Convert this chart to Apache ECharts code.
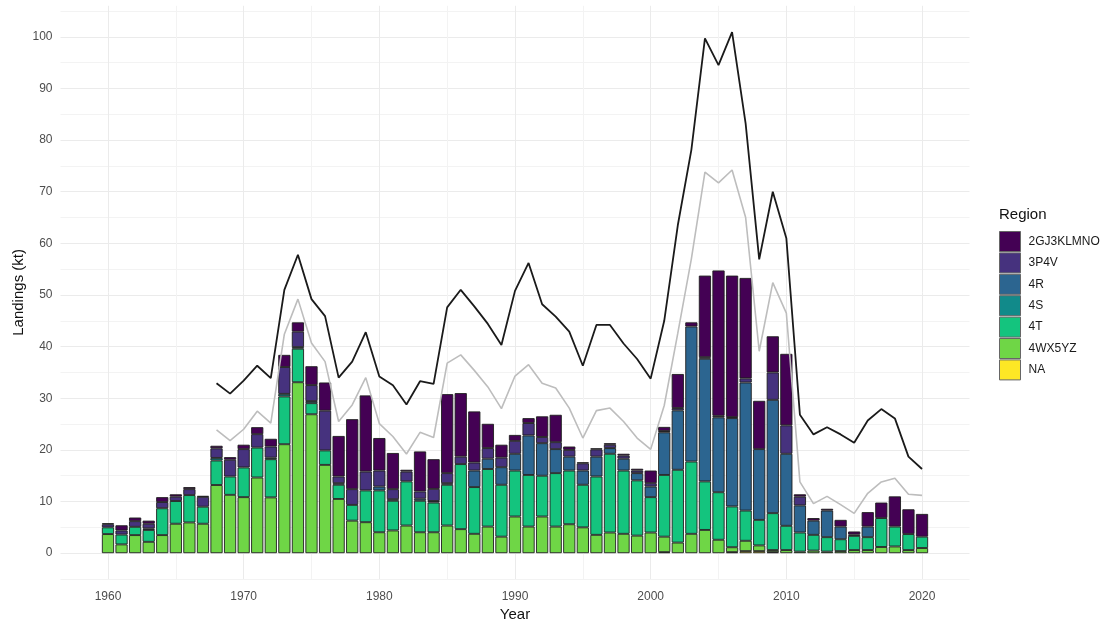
<!DOCTYPE html>
<html>
<head>
<meta charset="utf-8">
<script src="https://cdn.jsdelivr.net/npm/echarts@6/dist/echarts.min.js"></script>
<style>
html,body{margin:0;padding:0;background:#fff}
#chart{width:1112px;height:624px}
</style>
</head>
<body>
<div id="chart"></div>
<script>
// landings by region, kt, 1960-2020
var years = [1960,1961,1962,1963,1964,1965,1966,1967,1968,1969,
             1970,1971,1972,1973,1974,1975,1976,1977,1978,1979,
             1980,1981,1982,1983,1984,1985,1986,1987,1988,1989,
             1990,1991,1992,1993,1994,1995,1996,1997,1998,1999,
             2000,2001,2002,2003,2004,2005,2006,2007,2008,2009,
             2010,2011,2012,2013,2014,2015,2016,2017,2018,2019,2020];

var regions = ['2GJ3KLMNO','3P4V','4R','4S','4T','4WX5YZ','NA'];

var v2GJ = [0.2,1.0,0.7,0.6,0.95,0.45,0.4,0.2,0.5,0.5,
            0.85,1.35,1.5,2.35,1.8,3.65,5.45,7.85,13.55,14.75,
            6.3,7.0,0.35,7.75,5.75,15.3,12.3,9.9,4.7,2.5,
            1.15,0.95,4.0,5.3,0.65,0.2,0.2,0.3,0.35,0.35,
            2.45,0.8,6.6,0.8,15.8,28.15,27.4,19.45,9.35,7.0,
            13.85,0.45,0.5,0.35,1.3,0.6,2.8,3.0,5.85,4.8,4.4];

var v3P4V = [0.6,0.8,1.1,0.9,1.2,0.85,1.15,1.9,1.85,3.25,
             3.55,2.6,2.15,5.2,3.0,3.1,7.7,1.3,3.05,3.65,
             3.1,1.95,1.9,1.4,2.35,1.95,1.45,1.55,2.05,1.85,
             2.5,2.4,1.2,1.35,1.3,1.4,1.4,0.65,0.6,0.5,
             0.65,0.25,0.45,0,0.3,0.3,0.2,0.8,0,5.3,
             5.5,1.7,0,0,0,0,0,0,0,0,0];

var v4R = [0,0,0,0.3,0,0,0,0,0,0,
           0,0,0,0,0,0,0,0.3,0,0,
           0.75,0.3,0,0.4,0.3,0.3,0,3.2,2.0,3.4,
           3.25,7.65,6.3,4.65,2.7,2.75,3.85,1.1,2.3,1.4,
           2.05,8.25,11.5,26.15,23.75,14.5,17.1,24.8,13.7,21.95,
           13.95,5.25,2.75,5.15,2.45,0.25,2.05,0,0,0,0];

var v4S = [0,0,0,0,0,0,0,0,0.5,0,
           0,0,0.3,0.5,0.3,0.4,0,0,0,0,
           0,0,0,0,0,0,0,0,0,0,
           0,0,0,0,0,0,0,0,0,0,
           0,0,0,0,0,0,0,0,0,0,
           0,0,0,0,0,0,0,0,0,0,0];

var v4T = [1.3,1.9,1.6,2.3,5.2,4.4,5.3,3.3,4.75,3.55,
           5.75,5.8,7.4,9.25,6.5,2.15,2.8,2.75,3.05,6.15,
           8.1,5.75,8.55,6.1,5.75,7.9,12.6,9.05,11.15,10.05,
           8.9,10.0,7.9,10.35,10.4,8.25,11.3,15.25,12.25,10.7,
           6.85,11.95,14.1,14.0,9.4,9.2,7.9,5.85,4.95,7.15,
           4.7,3.7,3.05,2.8,2.3,2.75,2.5,5.6,3.85,3.1,2.2];

var v4WX = [3.7,1.7,3.5,2.2,3.5,5.7,5.95,5.7,13.2,11.3,
            10.85,14.65,10.8,21.1,33.1,26.9,17.1,10.5,6.3,6.0,
            4.05,4.4,5.35,4.05,4.05,5.35,4.65,3.75,5.15,3.2,
            7.1,5.15,7.1,5.15,5.6,5.0,3.55,4.0,3.75,3.4,
            4.0,3.0,2.05,3.75,4.5,2.6,0.95,2.0,1.1,0.4,
            0.6,0.3,0.5,0.3,0.4,0.6,0.6,1.2,1.3,0.6,1.0];

var vNA = [0,0,0,0,0,0,0,0,0,0,
           0,0,0,0,0,0,0,0,0,0,
           0,0,0,0,0,0,0,0,0,0,
           0,0,0,0,0,0,0,0,0,0,
           0,0.2,0,0,0,0,0.2,0.4,0.4,0.2,
           0,0,0,0,0,0,0,0,0,0,0];

// the two lines start in 1968
var lineYears = [1968,1969,1970,1971,1972,1973,1974,1975,1976,1977,1978,1979,
                 1980,1981,1982,1983,1984,1985,1986,1987,1988,1989,
                 1990,1991,1992,1993,1994,1995,1996,1997,1998,1999,
                 2000,2001,2002,2003,2004,2005,2006,2007,2008,2009,
                 2010,2011,2012,2013,2014,2015,2016,2017,2018,2019,2020];

var blackLine = [32.9,30.9,33.4,36.3,33.9,51.0,57.8,49.2,45.9,34.0,37.1,42.8,
                 34.2,32.5,28.8,33.3,32.8,47.6,51.0,47.8,44.4,40.3,
                 50.8,56.2,48.2,45.8,42.9,36.3,44.2,44.2,40.6,37.6,
                 33.8,45.0,63.5,78.1,99.7,94.5,100.9,83.2,56.9,70.0,
                 61.0,26.8,23.0,24.4,23.0,21.4,25.7,27.9,26.1,18.7,16.3];

var greyLine = [23.9,21.8,24.0,27.5,25.2,42.4,49.2,40.7,37.1,25.5,28.7,34.0,
                25.1,22.6,19.2,23.4,22.4,36.8,38.4,35.4,32.2,28.0,
                34.3,36.5,32.9,32.0,28.1,22.3,27.6,28.1,25.5,22.3,
                20.1,28.6,42.6,57.0,73.8,71.7,74.2,65.0,39.1,52.4,
                46.5,13.8,9.6,11.0,9.4,7.7,11.6,13.8,14.5,11.4,11.2];

var fills = ['#440154','#46327e','#2c6590','#118a8a','#14c47e','#6fd646','#fde725'];
var values = [v2GJ, v3P4V, v4R, v4S, v4T, v4WX, vNA];

var font = 'Liberation Sans, Arial, sans-serif';

// hidden band axis for the bars: the year range padded by 3.5 years each side,
// same as the visible value axis (1956.5 - 2023.5)
var bands = [];
for (var b = years[0] - 3; b <= years[years.length - 1] + 3; b++) bands.push(String(b));

function barPairs(xs, ys) {
	var out = [];
	for (var i = 0; i < xs.length; i++) {
		if (ys[i] > 0) out.push([String(xs[i]), ys[i]]);
	}
	return out;
}
function linePairs(xs, ys) {
	var out = [];
	for (var i = 0; i < xs.length; i++) out.push([xs[i], ys[i]]);
	return out;
}

// minor vertical grid lines between the labelled decades
var minorX = [];
for (var y = 1965; y <= 2015; y += 10) minorX.push({ xAxis: y });

var series = [];
// ggplot stacks the first level on top, so push in reverse
for (var k = regions.length - 1; k >= 0; k--) {
	series.push({
		name: regions[k],
		type: 'bar',
		stack: 'land',
		xAxisIndex: 1,
		barWidth: 12.2,
		data: barPairs(years, values[k]),
		itemStyle: { color: fills[k], borderColor: '#1e1e1e', borderWidth: 0.9 },
		z: 2
	});
}

series.push({
	name: 'grey',
	type: 'line',
	xAxisIndex: 0,
	data: linePairs(lineYears, greyLine),
	symbol: 'none',
	lineStyle: { color: '#bdbdbd', width: 1.6 },
	z: 3,
	markLine: {
		silent: true,
		symbol: 'none',
		z: 1,
		label: { show: false },
		lineStyle: { color: '#f3f3f3', width: 1, type: 'solid' },
		data: minorX
	}
});
series.push({
	name: 'black',
	type: 'line',
	xAxisIndex: 0,
	data: linePairs(lineYears, blackLine),
	symbol: 'none',
	lineStyle: { color: '#1a1a1a', width: 1.8 },
	z: 4
});

var myChart = echarts.init(document.getElementById('chart'));

var option = {
	animation: false,
	backgroundColor: '#fff',
	textStyle: { fontFamily: font },
	grid: { left: 60.5, right: 142.5, top: 5.8, bottom: 45, containLabel: false, outerBoundsMode: 'none' },
	xAxis: [{
		type: 'value',
		min: 1956.5,
		max: 2023.5,
		splitNumber: 6,
		name: 'Year',
		nameLocation: 'middle',
		nameGap: 28,
		nameMoveOverlap: false,
		nameTextStyle: { fontSize: 15, color: '#111', fontFamily: font },
		axisLine: { show: false },
		axisTick: { show: false },
		axisLabel: {
			color: '#4d4d4d', fontSize: 12, margin: 12, fontFamily: font,
			showMinLabel: false, showMaxLabel: false,
			formatter: function (v) { return String(v); }
		},
		splitLine: {
			show: true, showMinLine: false, showMaxLine: false,
			lineStyle: { color: '#ebebeb', width: 1 }
		}
	}, {
		type: 'category',
		data: bands,
		boundaryGap: true,
		show: false,
		splitLine: { show: false }
	}],
	yAxis: {
		type: 'value',
		min: -5,
		max: 106,
		interval: 5,
		name: 'Landings (kt)',
		nameLocation: 'middle',
		nameGap: 34,
		nameMoveOverlap: false,
		nameTextStyle: { fontSize: 15, color: '#111', fontFamily: font },
		axisLine: { show: false },
		axisTick: { show: false },
		axisLabel: {
			color: '#4d4d4d', fontSize: 12, margin: 8, fontFamily: font,
			showMaxLabel: false,
			formatter: function (v) { return (v >= 0 && v % 10 === 0) ? String(v) : ''; }
		},
		splitLine: {
			show: true, showMaxLine: false,
			lineStyle: { color: ['#f3f3f3', '#ebebeb'], width: 1 }
		}
	},
	legend: {
		data: regions,
		orient: 'vertical',
		left: 999,
		top: 231,
		padding: 0,
		itemWidth: 21,
		itemHeight: 20,
		itemGap: 0.4,
		icon: 'rect',
		itemStyle: { borderColor: '#666', borderWidth: 1 },
		textStyle: { fontSize: 12, color: '#1a1a1a', fontFamily: font, padding: [0, 0, 0, 3] },
		selectedMode: false
	},
	graphic: [{
		type: 'text',
		left: 999,
		top: 207,
		style: { text: 'Region', fontSize: 15, fill: '#111', fontFamily: font }
	}],
	series: series
};

myChart.setOption(option);
</script>
</body>
</html>
